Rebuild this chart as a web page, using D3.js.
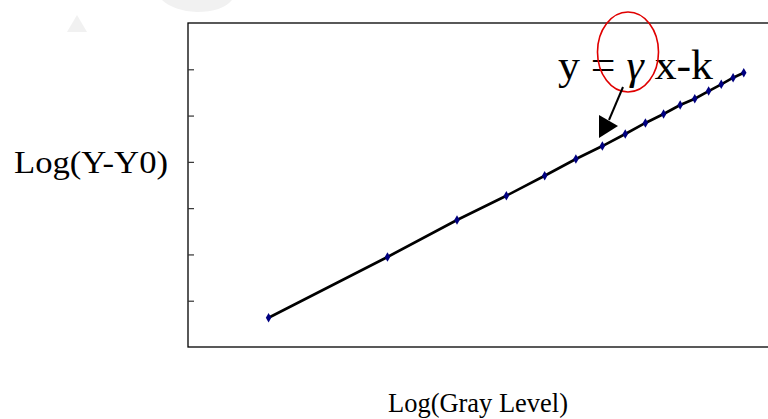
<!DOCTYPE html>
<html><head><meta charset="utf-8">
<script src="https://cdn.jsdelivr.net/npm/d3@7/dist/d3.min.js"></script>
<style>body{margin:0;background:#fff}svg{display:block}</style>
</head><body>
<svg id="c" width="768" height="419"></svg>
<script>
// log10(gray level) for gray = 16, 32, ..., 255
const logGray = [1.204,1.505,1.681,1.806,1.903,1.982,2.049,2.107,2.158,2.204,2.246,2.283,2.318,2.350,2.380,2.407];
// log(Y - Y0)
const logY = [-0.684,-0.028,0.372,0.634,0.850,1.031,1.171,1.301,1.420,1.517,1.614,1.682,1.765,1.838,1.909,1.963];
const yTicks = [-0.5,0,0.5,1,1.5,2];
const xLabel = "Log(Gray Level)";
const yLabel = "Log(Y-Y0)";

const svg = d3.select("#c");
const L=188, T=23, B=347, R=820;
const x = d3.scaleLinear().domain([1,2.6]).range([L,R]);
const y = d3.scaleLinear().domain([-1,2.5]).range([B,T]);
const serif = "Liberation Serif, Times New Roman, serif";

// faint watermark shapes
svg.append("path").attr("d","M77,15 L87,32 L67,32 Z").attr("fill","#f1f1f1");
svg.append("path").attr("d","M162,0 L232,0 Q222,12 197,12 Q174,11 162,0 Z").attr("fill","#f1f1f1");

// plot frame
svg.append("rect").attr("x",L).attr("y",T).attr("width",R-L).attr("height",B-T)
  .attr("fill","none").attr("stroke","#000").attr("stroke-width",1.3);

// y ticks (inside, no labels)
const ya = svg.append("g").attr("transform",`translate(${L},0)`)
  .call(d3.axisRight(y).tickValues(yTicks).tickSize(6).tickFormat(""));
ya.select(".domain").remove();
ya.selectAll("line").attr("stroke","#333").attr("stroke-width",1.2);

// line
const line = d3.line().x((d,i)=>x(logGray[i])).y(d=>y(d));
svg.append("path").datum(logY).attr("d",line).attr("fill","none")
  .attr("stroke","#000").attr("stroke-width",2.6);

// markers
svg.selectAll(".m").data(logY).enter().append("path")
  .attr("transform",(d,i)=>`translate(${x(logGray[i])},${y(d)})`)
  .attr("d",d3.symbol().type(d3.symbolDiamond).size(26))
  .attr("fill","#000080");

// annotation
svg.append("text").attr("x",558).attr("y",79)
  .attr("font-family",serif).attr("font-size",42)
  .attr("textLength",155).attr("lengthAdjust","spacingAndGlyphs")
  .attr("fill","#000")
  .html('y = <tspan font-style="italic">γ</tspan> x-k');
svg.append("ellipse").attr("cx",628).attr("cy",52).attr("rx",30.5).attr("ry",40)
  .attr("fill","none").attr("stroke","#e00000").attr("stroke-width",1.6);
svg.append("line").attr("x1",623).attr("y1",87).attr("x2",609).attr("y2",120)
  .attr("stroke","#000").attr("stroke-width",2);
svg.append("path").attr("d","M599,138 L599,115 L618,126 Z").attr("fill","#000");

// axis titles
svg.append("text").attr("x",14).attr("y",173)
  .attr("font-family",serif).attr("font-size",32)
  .attr("textLength",154).attr("lengthAdjust","spacingAndGlyphs")
  .text(yLabel);
svg.append("text").attr("x",388).attr("y",412)
  .attr("font-family",serif).attr("font-size",27.5)
  .attr("textLength",180).attr("lengthAdjust","spacingAndGlyphs")
  .text(xLabel);
</script>
</body></html>
